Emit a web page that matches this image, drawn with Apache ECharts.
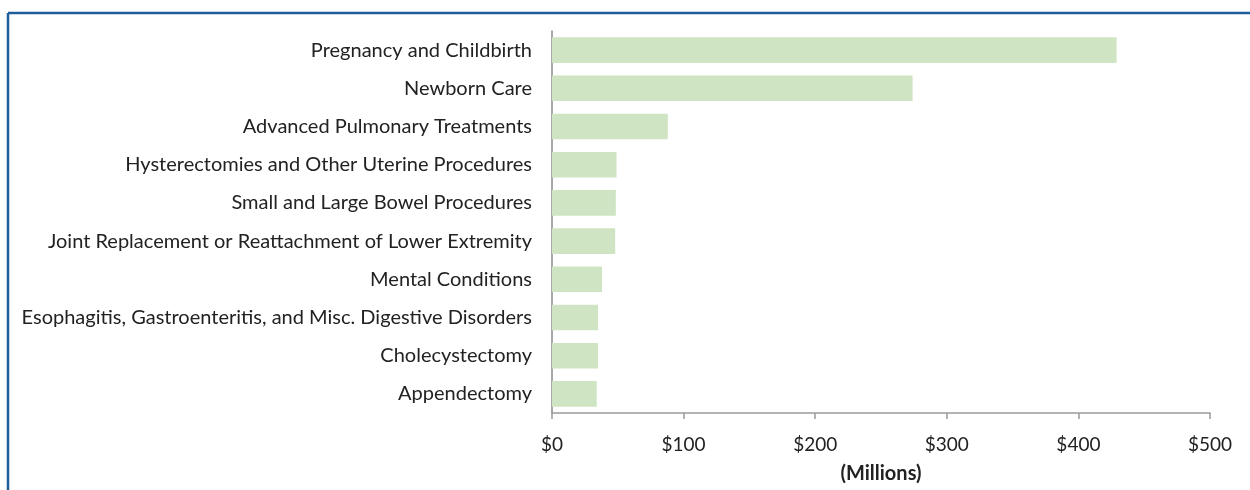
<!DOCTYPE html>
<html>
<head>
<meta charset="utf-8">
<script src="https://cdn.jsdelivr.net/npm/echarts@6/dist/echarts.min.js"></script>
<style>
html,body{margin:0;padding:0;background:#fff;}
#chart{width:1250px;height:490px;}
</style>
</head>
<body>
<div id="chart"></div>
<script>
const categories = [
  "Pregnancy and Childbirth",
  "Newborn Care",
  "Advanced Pulmonary Treatments",
  "Hysterectomies and Other Uterine Procedures",
  "Small and Large Bowel Procedures",
  "Joint Replacement or Reattachment of Lower Extremity",
  "Mental Conditions",
  "Esophagitis, Gastroenteritis, and Misc. Digestive Disorders",
  "Cholecystectomy",
  "Appendectomy"
];
const values = [429, 274, 88, 49, 48.5, 48, 38, 35, 35, 34];
const axisMin = 0, axisMax = 500, axisStep = 100;
const axisName = "(Millions)";

const chart = echarts.init(document.getElementById('chart'), null, {renderer: 'canvas'});
const FONT = 'Lato';
chart.setOption({
  animation: false,
  backgroundColor: '#ffffff',
  grid: {left: 552, right: 40, top: 31, bottom: 77, containLabel: false},
  graphic: [
    {type: 'line', shape: {x1: 8, y1: 13, x2: 1250, y2: 13}, style: {stroke: '#1f5c9a', lineWidth: 2.5}},
    {type: 'line', shape: {x1: 8, y1: 13, x2: 8, y2: 490}, style: {stroke: '#1f5c9a', lineWidth: 2.5}}
  ],
  xAxis: {
    type: 'value',
    min: axisMin, max: axisMax, interval: axisStep,
    axisLine: {show: true, lineStyle: {color: '#9a9a9a', width: 1.5}},
    axisTick: {show: true, length: 6, lineStyle: {color: '#9a9a9a', width: 1.5}},
    splitLine: {show: false},
    axisLabel: {formatter: v => '$' + v, color: '#222', fontSize: 19, fontFamily: FONT, margin: 22},
    name: axisName,
    nameLocation: 'middle',
    nameGap: 51,
    nameTextStyle: {color: '#222', fontSize: 20, fontWeight: 'bold', fontFamily: FONT}
  },
  yAxis: {
    type: 'category',
    data: categories,
    inverse: true,
    axisLine: {show: true, lineStyle: {color: '#8a8a8a', width: 1.5}},
    axisTick: {show: false},
    axisLabel: {color: '#222', fontSize: 20, fontFamily: FONT, margin: 20}
  },
  series: [{
    type: 'bar',
    data: values,
    barCategoryGap: '33%',
    itemStyle: {color: '#cfe4c2'}
  }]
});
</script>
</body>
</html>
